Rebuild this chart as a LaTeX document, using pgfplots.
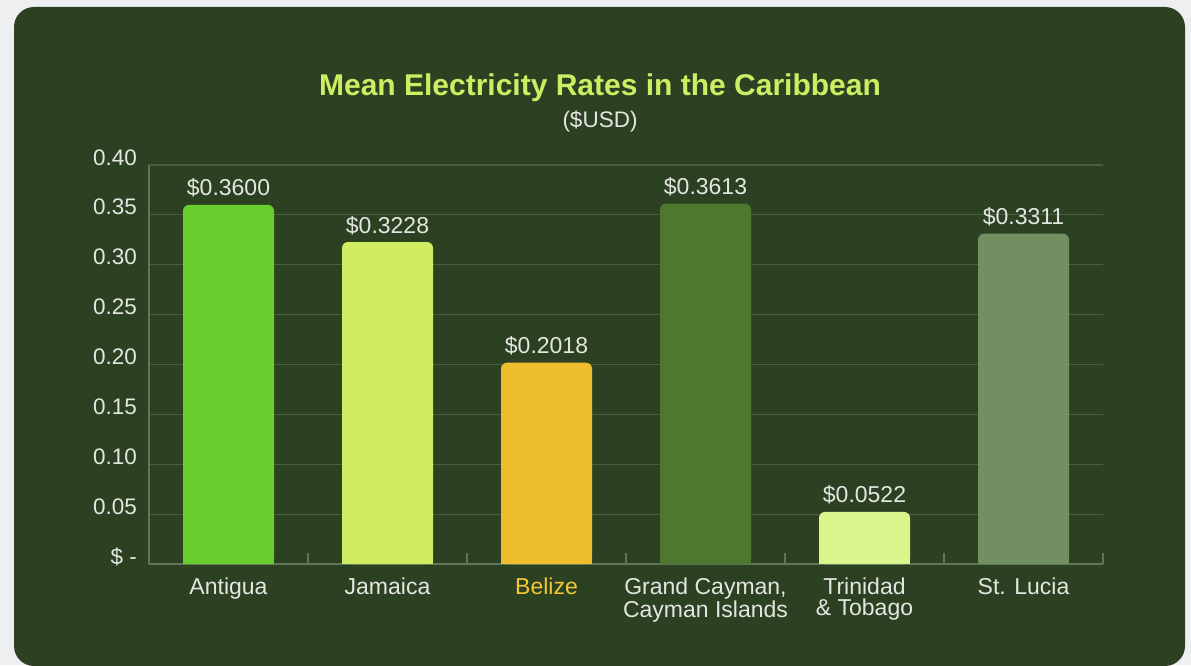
\documentclass[border=0pt]{standalone}
\usepackage{pgfplots}
\pgfplotsset{compat=1.18}
\usepackage{fontspec}
\setmainfont{Liberation Sans}

\definecolor{pagebg}{HTML}{EEEFF1}
\definecolor{card}{HTML}{2B4122}
\definecolor{gridc}{HTML}{4A5F41}
\definecolor{axisc}{HTML}{62745A}
\definecolor{txt}{HTML}{E4E6E1}
\definecolor{titlec}{HTML}{CDED62}
\definecolor{cA}{HTML}{68CE2E}
\definecolor{cJ}{HTML}{D0ED62}
\definecolor{cB}{HTML}{EEBE2E}
\definecolor{cG}{HTML}{4D782D}
\definecolor{cT}{HTML}{D9F58B}
\definecolor{cS}{HTML}{718F60}
\definecolor{belizelab}{HTML}{F3C832}

\begin{document}
\begin{tikzpicture}
\useasboundingbox (0,0) rectangle (1191pt,665pt);
\fill[pagebg] (0,0) rectangle (1191pt,665pt);
\fill[card, rounded corners=20pt] (14pt,-1pt) rectangle (1185pt,658pt);
\node[anchor=base, text=titlec, font=\fontsize{30}{34}\selectfont\bfseries]
  at (600pt,569pt) {Mean Electricity Rates in the Caribbean};
\node[anchor=base, text=txt, font=\fontsize{22.5}{26}\selectfont]
  at (600pt,537pt) {(\$USD)};

\begin{axis}[
    at={(149pt,101pt)}, anchor=south west,
    scale only axis, width=954pt, height=399pt,
    xmin=-0.5, xmax=5.5, ymin=0, ymax=0.4,
    ybar, bar width=91pt,
    axis x line*=bottom, axis y line*=left,
    axis line style={draw=axisc, line width=1.2pt, -},
    ymajorgrids, major grid style={draw=gridc, line width=1.2pt},
    ytick={0,0.05,0.1,0.15,0.2,0.25,0.3,0.35,0.4},
    yticklabels={\$ -,0.05,0.10,0.15,0.20,0.25,0.30,0.35,0.40},
    yticklabel style={anchor=base east, inner sep=0pt, xshift=-12pt,
      text=txt, font=\fontsize{22.5}{26}\selectfont},
    xtick={0,1,2,3,4,5},
    xticklabels={Antigua, Jamaica, \textcolor{belizelab}{Belize},
      {Grand Cayman,\\Cayman Islands}, {Trinidad\\\& Tobago}, St. Lucia},
    xticklabel style={anchor=north, inner sep=0pt, yshift=-14pt, align=center,
      text=txt, font=\fontsize{23}{21}\selectfont},
    minor xtick={0.5,1.5,2.5,3.5,4.5,5.5},
    major tick length=0pt, minor tick length=11pt,
    xtick align=inside,
    minor tick style={draw=axisc, line width=1.2pt},
    point meta=explicit symbolic,
    nodes near coords,
    every node near coord/.append style={anchor=base, yshift=9pt,
      text=txt, font=\fontsize{23}{26}\selectfont},
]
% rounded bars with value labels
\addplot[fill=cA, draw=none, bar shift=0pt, rounded corners=6pt] coordinates {(0,0.3600) [\$0.3600]};
\addplot[fill=cJ, draw=none, bar shift=0pt, rounded corners=6pt] coordinates {(1,0.3228) [\$0.3228]};
\addplot[fill=cB, draw=none, bar shift=0pt, rounded corners=6pt] coordinates {(2,0.2018) [\$0.2018]};
\addplot[fill=cG, draw=none, bar shift=0pt, rounded corners=6pt] coordinates {(3,0.3613) [\$0.3613]};
\addplot[fill=cT, draw=none, bar shift=0pt, rounded corners=6pt] coordinates {(4,0.0522) [\$0.0522]};
\addplot[fill=cS, draw=none, bar shift=0pt, rounded corners=6pt] coordinates {(5,0.3311) [\$0.3311]};
% square bottoms
\addplot[fill=cA, draw=none, bar shift=0pt, nodes near coords={}] coordinates {(0,0.03) []};
\addplot[fill=cJ, draw=none, bar shift=0pt, nodes near coords={}] coordinates {(1,0.03) []};
\addplot[fill=cB, draw=none, bar shift=0pt, nodes near coords={}] coordinates {(2,0.03) []};
\addplot[fill=cG, draw=none, bar shift=0pt, nodes near coords={}] coordinates {(3,0.03) []};
\addplot[fill=cT, draw=none, bar shift=0pt, nodes near coords={}] coordinates {(4,0.03) []};
\addplot[fill=cS, draw=none, bar shift=0pt, nodes near coords={}] coordinates {(5,0.03) []};
\end{axis}
\end{tikzpicture}
\end{document}
